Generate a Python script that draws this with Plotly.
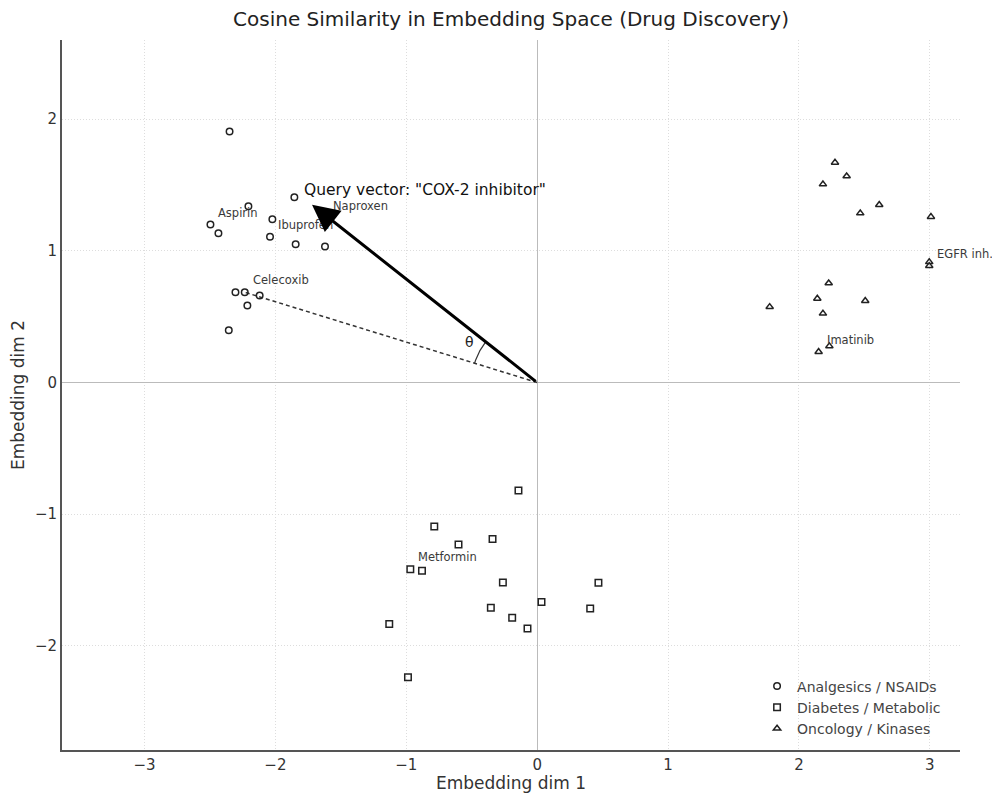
import numpy as np
import plotly.graph_objects as go

# ---------------- data ----------------
analgesics_x = [-2.350, -1.855, -2.206, -2.496, -2.435, -2.023, -2.041, -1.845, -1.621,
                -2.305, -2.234, -2.120, -2.214, -2.356, -1.620]
analgesics_y = [1.905, 1.406, 1.338, 1.199, 1.133, 1.240, 1.106, 1.050, 1.032,
                0.685, 0.685, 0.660, 0.584, 0.397, 1.250]

diabetes_x = [-0.143, -0.786, -0.601, -0.341, -0.969, -0.880, -0.262, 0.468, 0.033,
              -0.354, 0.405, -0.191, -0.074, -1.130, -0.987]
diabetes_y = [-0.820, -1.093, -1.230, -1.189, -1.417, -1.430, -1.518, -1.521, -1.667,
              -1.710, -1.715, -1.786, -1.867, -1.834, -2.237]

oncology_x = [2.275, 2.364, 2.183, 2.613, 2.468, 3.008, 2.995, 2.995, 2.227, 2.140,
              2.506, 1.776, 2.183, 2.232, 2.150]
oncology_y = [1.670, 1.566, 1.505, 1.349, 1.285, 1.258, 0.915, 0.885, 0.754, 0.637,
              0.620, 0.574, 0.524, 0.276, 0.233]

group_names = ["Analgesics / NSAIDs", "Diabetes / Metabolic", "Oncology / Kinases"]

# labelled drugs: (name, group, index in group)
label_names = ["Aspirin", "Ibuprofen", "Naproxen", "Celecoxib", "Metformin", "EGFR inh.", "Imatinib"]
label_groups = [0, 0, 0, 0, 1, 2, 2]
label_index = [3, 6, 14, 10, 4, 7, 14]

query_vec = [-1.72, 1.35]
query_label = 'Query vector: "COX-2 inhibitor"'
target_name = "Celecoxib"

x_ticks = [-3, -2, -1, 0, 1, 2, 3]
y_ticks = [-2, -1, 0, 1, 2]

# ---------------- figure ----------------
FONT = "DejaVu Sans"
groups_x = [analgesics_x, diabetes_x, oncology_x]
groups_y = [analgesics_y, diabetes_y, oncology_y]
symbols = ["circle-open", "square-open", "triangle-up-open"]

fig = go.Figure()

# dashed line from origin to target drug
ti = label_names.index(target_name)
tx = groups_x[label_groups[ti]][label_index[ti]]
ty = groups_y[label_groups[ti]][label_index[ti]]
fig.add_trace(go.Scatter(x=[0, tx], y=[0, ty], mode="lines",
                         line=dict(color="#333333", width=1.5, dash="4px,3px"),
                         showlegend=False, hoverinfo="skip"))

for gx, gy, name, sym in zip(groups_x, groups_y, group_names, symbols):
    fig.add_trace(go.Scatter(
        x=gx, y=gy, mode="markers", name=name,
        marker=dict(symbol=sym, size=6.5, color="#222222",
                    line=dict(color="#222222", width=1.5)),
    ))

# angle arc
a_q = np.arctan2(query_vec[1], query_vec[0])
a_t = np.arctan2(ty, tx)
angs = np.linspace(a_q, a_t, 40)
r_arc = 0.5
fig.add_trace(go.Scatter(x=r_arc * np.cos(angs), y=r_arc * np.sin(angs), mode="lines",
                         line=dict(color="#333333", width=1.2),
                         showlegend=False, hoverinfo="skip"))

annotations = []
# drug labels
for name, g, i in zip(label_names, label_groups, label_index):
    annotations.append(dict(x=groups_x[g][i] + 0.045, y=groups_y[g][i] + 0.09,
                            text=name, showarrow=False, xanchor="left", yanchor="middle",
                            font=dict(family=FONT, size=11.5, color="#3a3a3a")))

# query arrow
annotations.append(dict(x=query_vec[0], y=query_vec[1], ax=0, ay=0,
                        xref="x", yref="y", axref="x", ayref="y",
                        text="", showarrow=True, arrowhead=2, arrowwidth=3,
                        arrowsize=1.8, arrowcolor="black"))
annotations.append(dict(x=query_vec[0] - 0.08, y=query_vec[1] + 0.11, text=query_label,
                        showarrow=False, xanchor="left", yanchor="middle",
                        font=dict(family=FONT, size=15.5, color="#111111")))
# theta
a_mid = (a_q + a_t) / 2
annotations.append(dict(x=0.6 * np.cos(a_mid - 0.05), y=0.6 * np.sin(a_mid - 0.05), text="θ",
                        showarrow=False, font=dict(family=FONT, size=14, color="#222222")))

# the page body has an 8px margin; size the figure so the plot lands where the reference has it
fig.update_layout(
    width=992, height=785,
    margin=dict(l=54, r=40, t=32, b=43),
    paper_bgcolor="white", plot_bgcolor="white",
    font=dict(family=FONT, size=15, color="#333333"),
    title=dict(text="Cosine Similarity in Embedding Space (Drug Discovery)",
               x=0.5, xref="paper", y=1 - 11 / 785, yref="container",
               xanchor="center", yanchor="middle",
               font=dict(family=FONT, size=20, color="#222222")),
    showlegend=True,
    legend=dict(x=0.774, y=0.112, xanchor="left", yanchor="top",
                bgcolor="rgba(255,255,255,0)", borderwidth=0,
                font=dict(family=FONT, size=14, color="#444444"),
                itemsizing="trace", tracegroupgap=0),
    annotations=annotations,
)

fig.update_xaxes(
    range=[-3.63, 3.23], tickvals=x_ticks, showgrid=True,
    gridcolor="#dddddd", griddash="1px,2px", gridwidth=1,
    zeroline=True, zerolinecolor="#bbbbbb", zerolinewidth=1.2,
    showline=True, linecolor="#555555", linewidth=2, mirror=False,
    ticks="", automargin=False,
    title=dict(text="Embedding dim 1", standoff=2, font=dict(family=FONT, size=17, color="#333333")),
    tickfont=dict(family=FONT, size=15, color="#333333"),
)
fig.update_yaxes(
    range=[-2.79, 2.6], tickvals=y_ticks, showgrid=True,
    gridcolor="#dddddd", griddash="1px,2px", gridwidth=1,
    zeroline=True, zerolinecolor="#bbbbbb", zerolinewidth=1.2,
    showline=True, linecolor="#555555", linewidth=2, mirror=False,
    ticks="", automargin=False,
    title=dict(text="Embedding dim 2", standoff=8, font=dict(family=FONT, size=17, color="#333333")),
    tickfont=dict(family=FONT, size=15, color="#333333"),
)

fig.write_html("out.html")
